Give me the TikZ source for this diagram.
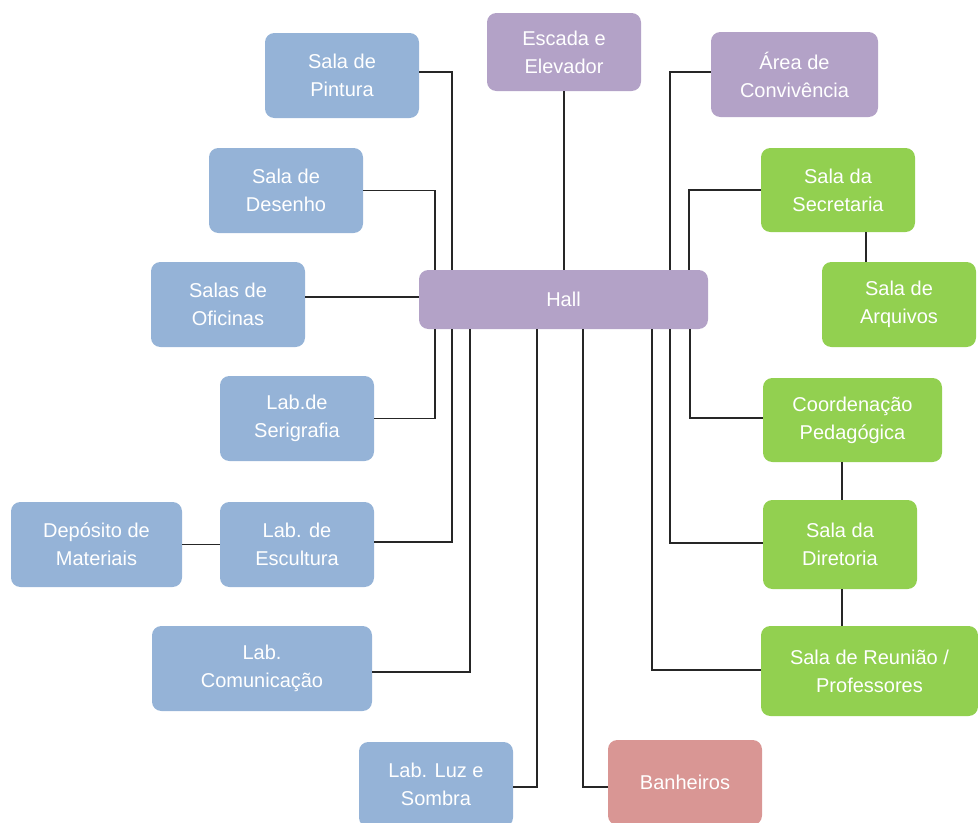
\documentclass[tikz,border=0pt]{standalone}
\usepackage{fontspec}
\setmainfont{Liberation Sans}
\definecolor{blueC}{HTML}{95B3D7}
\definecolor{purpC}{HTML}{B3A2C7}
\definecolor{greenC}{HTML}{92D050}
\definecolor{redC}{HTML}{D99694}
\definecolor{lineC}{HTML}{262626}
\begin{document}
\begin{tikzpicture}[x=0.75pt,y=-0.75pt,
  bx/.style={rounded corners=7pt, draw=none, text=white, align=center,
    font=\fontsize{15}{21}\selectfont, inner sep=0pt},
  wh/.style 2 args={minimum width=#1*0.75pt, minimum height=#2*0.75pt},
  conn/.style={draw=lineC, line width=1.1pt}]
\useasboundingbox (0,0) rectangle (978,822);
% nodes
\node[bx, fill=blueC, wh={154}{85}] (pint) at (342,75.5) {Sala de\\Pintura};
\node[bx, fill=purpC, wh={154}{78}] (esc) at (564,52) {Escada e\\Elevador};
\node[bx, fill=purpC, wh={167}{85}] (conv) at (794.5,74.5) {Área de\\Convivência};
\node[bx, fill=blueC, wh={154}{85}] (des) at (286,190.5) {Sala de\\Desenho};
\node[bx, fill=greenC, wh={154}{84}] (sec) at (838,190) {Sala da\\Secretaria};
\node[bx, fill=purpC, wh={289}{59}] (hall) at (563.5,299.5) {Hall};
\node[bx, fill=blueC, wh={154}{85}] (ofi) at (228,304.5) {Salas de\\Oficinas};
\node[bx, fill=greenC, wh={154}{85}] (arq) at (899,304.5) {Sala de\\Arquivos};
\node[bx, fill=blueC, wh={154}{85}] (seri) at (297,418.5) {Lab.de\\Serigrafia};
\node[bx, fill=greenC, wh={179}{84}] (coord) at (852.5,420) {Coordenação\\Pedagógica};
\node[bx, fill=blueC, wh={171}{85}] (dep) at (96.5,544.5) {Depósito de\\Materiais};
\node[bx, fill=blueC, wh={154}{85}] (escu) at (297,544.5) {Lab. de\\Escultura};
\node[bx, fill=greenC, wh={154}{89}] (dir) at (840,544.5) {Sala da\\Diretoria};
\node[bx, fill=blueC, wh={220}{85}] (com) at (262,668.5) {Lab.\\Comunicação};
\node[bx, fill=greenC, wh={217}{90}] (reu) at (869.5,671) {Sala de Reunião /\\Professores};
\node[bx, fill=blueC, wh={154}{85}] (luz) at (436,784.5) {Lab. Luz e\\Sombra};
\node[bx, fill=redC, wh={154}{85}] (ban) at (685,782.5) {Banheiros};
% connectors above hall
\draw[conn] (pint.east |- 0,72) -| (452,0 |- hall.north);
\draw[conn] (des.east) -| (435,0 |- hall.north);
\draw[conn] (esc.south) -- (esc.south |- hall.north);
\draw[conn] (conv.west |- 0,72) -| (670,0 |- hall.north);
\draw[conn] (sec.west) -| (689,0 |- hall.north);
\draw[conn] (ofi.east |- 0,297) -- (hall.west |- 0,297);
% connectors below hall, left
\draw[conn] (435,0 |- hall.south) |- (seri.east);
\draw[conn] (452,0 |- hall.south) |- (escu.east |- 0,542);
\draw[conn] (470,0 |- hall.south) |- (com.east |- 0,672);
\draw[conn] (537,0 |- hall.south) |- (luz.east |- 0,787);
\draw[conn] (583,0 |- hall.south) |- (ban.west |- 0,787);
% connectors below hall, right
\draw[conn] (690,0 |- hall.south) |- (coord.west |- 0,418);
\draw[conn] (670,0 |- hall.south) |- (dir.west |- 0,543);
\draw[conn] (652,0 |- hall.south) |- (reu.west |- 0,670);
% chains
\draw[conn] (866,0 |- sec.south) -- (866,0 |- arq.north);
\draw[conn] (842,0 |- coord.south) -- (842,0 |- dir.north);
\draw[conn] (842,0 |- dir.south) -- (842,0 |- reu.north);
\draw[conn] (dep.east) -- (escu.west);
\end{tikzpicture}
\end{document}
